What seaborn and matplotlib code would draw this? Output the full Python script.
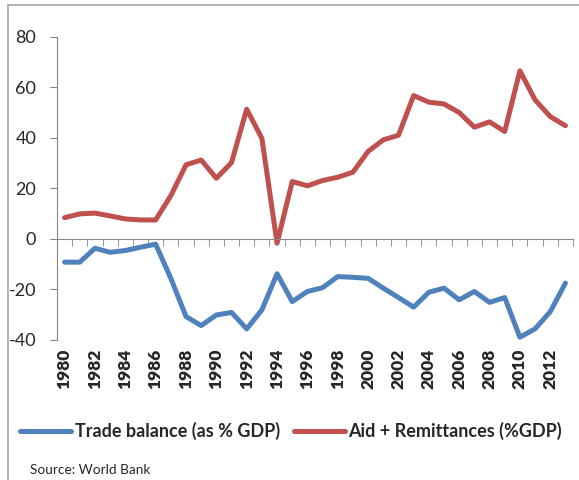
import numpy as np
import pandas as pd
import matplotlib
matplotlib.use('Agg')
import matplotlib.pyplot as plt
import seaborn as sns
from matplotlib.lines import Line2D

# -----------------------------------------------------------------
# DATA
# -----------------------------------------------------------------
years = list(range(1980, 2014))

trade_balance = [-9.2, -9.2, -3.7, -5.3, -4.6, -3.3, -2.1, -15.6, -30.7, -34.3,
                 -30.1, -29.1, -35.6, -28.1, -13.8, -24.8, -20.8, -19.3, -14.9, -15.2,
                 -15.6, -19.5, -23.2, -27.0, -21.1, -19.5, -24.1, -20.8, -25.1, -23.2,
                 -38.9, -35.6, -28.8, -17.5]

aid_remit = [8.4, 9.9, 10.2, 9.1, 7.9, 7.5, 7.5, 17.1, 29.3, 31.2,
             24.0, 30.2, 51.3, 39.8, -1.7, 22.7, 21.0, 23.1, 24.4, 26.4,
             34.6, 39.2, 41.0, 56.7, 54.1, 53.4, 50.0, 44.2, 46.3, 42.5,
             66.5, 55.0, 48.4, 44.8]

series_names = ['Trade balance (as % GDP)', 'Aid + Remittances (%GDP)']
series_colors = ['#4F81BD', '#C0504D']
y_ticks = [-40, -20, 0, 20, 40, 60, 80]
label_years = [y for y in years if y % 2 == 0]

df = pd.DataFrame({
    'year': years * 2,
    'value': trade_balance + aid_remit,
    'series': [series_names[0]] * len(years) + [series_names[1]] * len(years),
})

# -----------------------------------------------------------------
# PLOT
# -----------------------------------------------------------------
sns.set_style('white')
plt.rcParams['font.family'] = ['Lato', 'DejaVu Sans']

fig = plt.figure(figsize=(5.79, 4.80), dpi=100)
ax = fig.add_axes([57 / 579, 1 - 340 / 480, 516 / 579, (340 - 36.7) / 480])

sns.lineplot(data=df, x='year', y='value', hue='series', hue_order=series_names,
             palette=series_colors, linewidth=3.6, ax=ax, legend=False)

ax.set_xlim(years[0] - 0.5, years[-1] + 0.5)
ax.set_ylim(-40, 80)
ax.set_xlabel('')
ax.set_ylabel('')

grey = '#868686'
for s in ['top', 'right']:
    ax.spines[s].set_visible(False)
ax.spines['left'].set_color(grey)
ax.spines['bottom'].set_color(grey)
ax.spines['bottom'].set_position(('data', 0))

# y axis
ax.set_yticks(y_ticks)
ax.set_yticklabels([str(v) for v in y_ticks], fontsize=13)
ax.tick_params(axis='y', direction='out', length=5, color=grey, pad=10, left=True)

# x axis line at zero with tick marks between the years
ax.set_xticks([])
ax.set_xticks(np.arange(years[0] - 0.5, years[-1] + 1.0, 1.0), minor=True)
ax.tick_params(axis='x', which='minor', direction='out', length=5, color=grey, bottom=True)

# year labels at the bottom of the plot area
sec = ax.secondary_xaxis('bottom')
sec.set_xticks(label_years)
sec.set_xticklabels([str(y) for y in label_years], rotation=90, fontsize=12.5,
                    fontweight='heavy')
sec.tick_params(length=0, pad=6)
sec.spines['bottom'].set_visible(False)

# legend below the chart
handles = [Line2D([], [], color=c, linewidth=3.6) for c in series_colors]
leg = fig.legend(handles, series_names, loc='center', bbox_to_anchor=(0.503, 1 - 431 / 480),
                 ncol=2, frameon=False, handlelength=2.8, handletextpad=0.2,
                 columnspacing=0.8, prop={'size': 13, 'weight': 'bold'})

fig.text(30 / 579, 1 - 470 / 480, 'Source: World Bank', fontsize=9.8, va='center')

# outer chart frame (cropped at right and bottom)
fig.add_artist(Line2D([8 / 579, 8 / 579], [0, 1 - 5 / 480], color='#A6A6A6', lw=1.2,
                      transform=fig.transFigure))
fig.add_artist(Line2D([8 / 579, 1], [1 - 5 / 480, 1 - 5 / 480], color='#A6A6A6', lw=1.2,
                      transform=fig.transFigure))

fig.savefig('out.png', dpi=100)
